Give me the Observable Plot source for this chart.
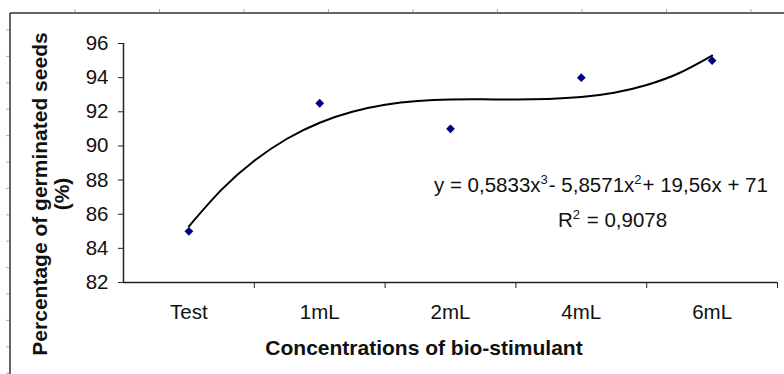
<!DOCTYPE html>
<html>
<head>
<meta charset="utf-8">
<script src="https://cdn.jsdelivr.net/npm/d3@7"></script>
<script src="https://cdn.jsdelivr.net/npm/@observablehq/plot@0.6"></script>
<style>
  html, body { margin: 0; padding: 0; background: #fff; }
  #chart svg { display: block; }
</style>
</head>
<body>
<div id="chart"></div>
<script>
// Categories and observed values
const categories = ["Test", "1mL", "2mL", "4mL", "6mL"];
const germination = [85, 92.5, 91, 94, 95];

// Trendline (polynomial, order 3) at quarter steps
const trendX = [1, 1.25, 1.5, 1.75, 2, 2.25, 2.5, 2.75, 3, 3.25, 3.5, 3.75, 4, 4.25, 4.5, 4.75, 5];
const trendY = [85.29, 87.44, 89.13, 90.42, 91.36, 92.0, 92.41, 92.63, 92.72, 92.73, 92.72, 92.75, 92.86, 93.11, 93.57, 94.27, 95.29];

const yTicks = [82, 84, 86, 88, 90, 92, 94, 96];

const points = categories.map((c, i) => ({ idx: i + 1, cat: c, value: germination[i] }));
const trend = trendX.map((x, i) => ({ x, y: trendY[i] }));
const boundaries = categories.map((c, i) => i + 1.5);

const FONT = "'Liberation Sans', Arial, sans-serif";

const plot = Plot.plot({
  width: 784,
  height: 374,
  marginLeft: 123,
  marginRight: 7,
  marginTop: 43,
  marginBottom: 92,
  style: { fontFamily: FONT, fontSize: "20.5px", color: "#111", background: "#fff" },
  x: { type: "linear", domain: [0.5, 5.5] },
  y: { domain: [82, 96] },
  marks: [
    Plot.axisY({ ticks: yTicks, tickSize: 5, tickPadding: 10, label: null, stroke: "#222", fontSize: 20.5 }),
    Plot.axisX({ ticks: boundaries, tickSize: 6, tickFormat: () => "", label: null, stroke: "#222" }),
    Plot.axisX({ ticks: categories.map((c, i) => i + 1), tickSize: 0, tickPadding: 22,
                 tickFormat: d => categories[d - 1], label: null, fontSize: 20.5 }),
    Plot.ruleY([82], { stroke: "#222", strokeWidth: 1.5 }),
    Plot.ruleX([0.5], { y1: 82, y2: 96, stroke: "#222", strokeWidth: 1.5 }),
    Plot.line(trend, { x: "x", y: "y", curve: "natural", stroke: "#000", strokeWidth: 2 }),
    Plot.dot(points, { x: "idx", y: "value", symbol: "square", rotate: 45, r: 3.5, fill: "#00007f", stroke: "none" })
  ]
});

document.getElementById("chart").appendChild(plot);

// Annotations and chart-area decorations
const svg = d3.select(plot);
const deco = svg.append("g");
// outer chart frame (left and top)
deco.append("line").attr("x1", 10).attr("x2", 10).attr("y1", 13).attr("y2", 374)
  .attr("stroke", "#333").attr("stroke-width", 1.5);
deco.append("line").attr("x1", 10).attr("x2", 784).attr("y1", 13).attr("y2", 13)
  .attr("stroke", "#333").attr("stroke-width", 1.5);
d3.range(30, 374, 26.4).forEach(y => deco.append("line")
  .attr("x1", 6).attr("x2", 9).attr("y1", y).attr("y2", y).attr("stroke", "#aaa"));
d3.range(75, 784, 84.5).forEach(x => deco.append("line")
  .attr("x1", x).attr("x2", x).attr("y1", 9).attr("y2", 12).attr("stroke", "#aaa"));

// axis titles
const yt = svg.append("text")
  .attr("transform", "translate(47,194) rotate(-90)")
  .attr("text-anchor", "middle")
  .attr("font-family", FONT).attr("font-weight", "bold").attr("font-size", 21).attr("fill", "#111");
yt.append("tspan").attr("x", 0).attr("y", 0).text("Percentage of germinated seeds");
yt.append("tspan").attr("x", 0).attr("dy", 22).text("(%)");

svg.append("text")
  .attr("x", 424).attr("y", 355)
  .attr("text-anchor", "middle")
  .attr("font-family", FONT).attr("font-weight", "bold").attr("font-size", 21).attr("fill", "#111")
  .text("Concentrations of bio-stimulant");

// trendline equation
const eq = svg.append("text").attr("x", 434).attr("y", 192)
  .attr("text-anchor", "start")
  .attr("font-family", FONT).attr("font-size", 20.5).attr("fill", "#111");
eq.append("tspan").text("y = 0,5833x");
eq.append("tspan").attr("dx", 0).attr("dy", -8).attr("font-size", 13).text("3");
eq.append("tspan").attr("dx", 1).attr("dy", 8).text("- 5,8571x");
eq.append("tspan").attr("dx", 0).attr("dy", -8).attr("font-size", 13).text("2");
eq.append("tspan").attr("dx", 1).attr("dy", 8).text("+ 19,56x + 71");

const r2 = svg.append("text").attr("x", 558).attr("y", 227)
  .attr("text-anchor", "start")
  .attr("font-family", FONT).attr("font-size", 20.5).attr("fill", "#111");
r2.append("tspan").text("R");
r2.append("tspan").attr("dx", 0).attr("dy", -8).attr("font-size", 13).text("2");
r2.append("tspan").attr("dx", 1).attr("dy", 8).text(" = 0,9078");
</script>
</body>
</html>
